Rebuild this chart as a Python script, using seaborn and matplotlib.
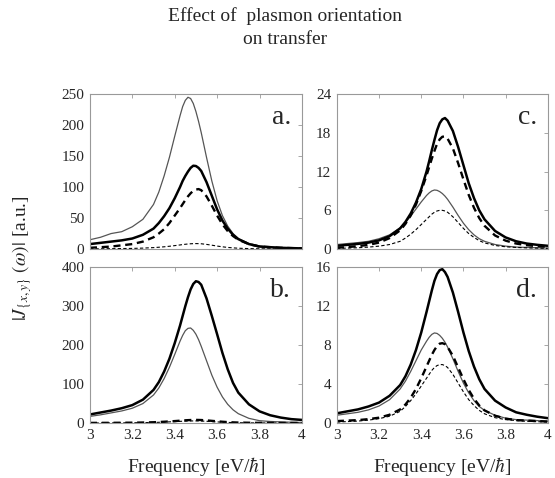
"""Effect of plasmon orientation on transfer -- four panels of |J(w)| spectra."""

import pandas as pd
import seaborn as sns
import matplotlib
matplotlib.use("Agg")
import matplotlib.pyplot as plt

# frequency grid [eV/hbar], denser around the resonance
freq = [3.0, 3.05, 3.1, 3.15, 3.2, 3.25, 3.3, 3.325, 3.35, 3.375, 3.4, 3.425, 3.4375, 3.45,
        3.4625, 3.475, 3.4875, 3.5, 3.5125, 3.525, 3.55, 3.575, 3.6, 3.625, 3.65, 3.675, 3.7,
        3.75, 3.8, 3.85, 3.9, 3.95, 4.0]

# panel a.
a_thin = [15, 19, 25, 28, 36, 48, 72, 92, 118, 148, 182, 215, 230, 240, 245, 243, 235, 222, 206,
          188, 148, 110, 78, 54, 37, 25, 17, 9, 5, 3, 2, 1.5, 1]
a_thick = [8, 10, 12, 14, 17, 23, 33, 42, 53, 66, 82, 100, 110, 118, 125, 131, 134.5, 134, 131,
           126, 108, 86, 64, 46, 33, 23, 16, 8, 4, 3, 2, 1.5, 1]
a_dash = [2, 3, 4, 6, 8, 12, 19, 25, 32, 42, 54, 66, 72.5, 79, 85, 90, 94, 96, 96.8,
          95, 85, 70, 54, 40, 29, 21, 15, 8, 4, 3, 2, 1.5, 1]
a_dot = [0.3, 0.4, 0.6, 0.8, 1.0, 1.5, 2.3, 2.9, 3.6, 4.5, 5.5, 6.6, 7.2, 7.7, 8.15, 8.5, 8.7, 8.8,
         8.7, 8.5, 7.5, 6.2, 4.8, 3.6, 2.6, 1.9, 1.3, 0.7, 0.4, 0.3, 0.2, 0.15, 0.1]

# panel b.
b_thin = [17, 21, 26, 31, 38, 50, 72, 90, 114, 143, 176, 210, 225, 237, 243, 244, 238, 228, 214,
          197, 160, 123, 92, 67, 48, 34, 24, 12, 6, 4, 3, 2, 1.5]
b_thick = [22, 27, 32, 38, 46, 60, 85, 105, 132, 165, 205, 250, 275, 300, 323, 343, 357, 364, 362,
           355, 320, 275, 228, 180, 138, 103, 78, 48, 30, 20, 14, 10, 8]
b_dash = [0.3, 0.4, 0.5, 0.7, 0.9, 1.3, 2.0, 2.6, 3.3, 4.1, 5.0, 6.0, 6.5, 7.0, 7.4, 7.7, 7.9, 8.0,
          7.9, 7.7, 6.8, 5.6, 4.4, 3.3, 2.4, 1.7, 1.2, 0.7, 0.4, 0.3, 0.2, 0.15, 0.1]
b_dot = [0.2, 0.3, 0.4, 0.5, 0.7, 1.0, 1.5, 1.9, 2.4, 3.0, 3.6, 4.3, 4.6, 4.9, 5.15, 5.3, 5.4, 5.4,
         5.3, 5.1, 4.5, 3.7, 2.9, 2.2, 1.6, 1.1, 0.8, 0.45, 0.3, 0.2, 0.15, 0.1, 0.1]

# panel c.
c_thin = [0.7, 0.85, 1.0, 1.2, 1.6, 2.2, 3.3, 4.1, 5.1, 6.2, 7.3, 8.3, 8.7, 9.0, 9.15, 9.1, 8.9, 8.6,
          8.2, 7.7, 6.5, 5.2, 4.0, 3.0, 2.2, 1.6, 1.2, 0.7, 0.45, 0.3, 0.25, 0.2, 0.15]
c_thick = [0.5, 0.65, 0.8, 1.0, 1.35, 2.0, 3.2, 4.2, 5.5, 7.2, 9.3, 12.0, 13.6, 15.3, 16.9, 18.4, 19.5,
           20.1, 20.3, 19.9, 18.3, 15.8, 13.0, 10.2, 7.9, 6.0, 4.6, 2.8, 1.8, 1.2, 0.85, 0.65, 0.5]
c_dash = [0.2, 0.3, 0.45, 0.65, 1.0, 1.7, 2.9, 3.9, 5.2, 6.9, 9.0, 11.4, 12.7, 14.0, 15.2, 16.3, 17.0,
          17.4, 17.45, 17.1, 15.6, 13.3, 10.8, 8.4, 6.4, 4.8, 3.6, 2.1, 1.3, 0.85, 0.6, 0.45, 0.35]
c_dot = [0.1, 0.15, 0.2, 0.3, 0.45, 0.7, 1.2, 1.7, 2.3, 3.0, 3.8, 4.6, 5.0, 5.4, 5.7, 5.9, 6.0, 6.0,
         5.9, 5.7, 5.0, 4.1, 3.2, 2.4, 1.8, 1.3, 0.95, 0.55, 0.35, 0.25, 0.18, 0.14, 0.1]

# panel d.
d_thin = [0.8, 0.95, 1.1, 1.35, 1.75, 2.4, 3.5, 4.3, 5.3, 6.4, 7.5, 8.4, 8.8, 9.1, 9.25, 9.2, 9.0, 8.7,
          8.3, 7.8, 6.6, 5.3, 4.1, 3.1, 2.3, 1.7, 1.3, 0.8, 0.5, 0.35, 0.3, 0.25, 0.2]
d_thick = [1.0, 1.2, 1.4, 1.7, 2.1, 2.8, 3.9, 4.8, 6.0, 7.5, 9.3, 11.4, 12.5, 13.6, 14.6, 15.3, 15.7,
           15.8, 15.5, 15.0, 13.4, 11.4, 9.3, 7.4, 5.8, 4.5, 3.5, 2.3, 1.6, 1.1, 0.85, 0.65, 0.5]
d_dash = [0.2, 0.25, 0.3, 0.4, 0.55, 0.85, 1.4, 1.9, 2.6, 3.5, 4.6, 5.8, 6.4, 7.0, 7.5, 7.9, 8.15, 8.2,
          8.1, 7.8, 6.9, 5.7, 4.5, 3.4, 2.5, 1.8, 1.3, 0.75, 0.45, 0.3, 0.25, 0.2, 0.15]
d_dot = [0.1, 0.15, 0.2, 0.3, 0.45, 0.7, 1.2, 1.7, 2.3, 3.0, 3.8, 4.6, 5.0, 5.4, 5.7, 5.9, 6.0, 6.0,
         5.9, 5.7, 5.0, 4.1, 3.2, 2.4, 1.8, 1.3, 0.95, 0.55, 0.35, 0.25, 0.18, 0.14, 0.1]

panels = {
    "a.": (a_thin, a_thick, a_dash, a_dot, [0, 50, 100, 150, 200, 250]),
    "b.": (b_thin, b_thick, b_dash, b_dot, [0, 100, 200, 300, 400]),
    "c.": (c_thin, c_thick, c_dash, c_dot, [0, 6, 12, 18, 24]),
    "d.": (d_thin, d_thick, d_dash, d_dot, [0, 4, 8, 12, 16]),
}

sns.set_style("white")
plt.rcParams["font.family"] = ["Liberation Serif", "DejaVu Serif"]
plt.rcParams["mathtext.fontset"] = "stix"

fig = plt.figure(figsize=(5.55, 4.78), dpi=100)
# axes boxes in figure fractions (left, bottom, width, height)
boxes = {
    "a.": [0.162, 0.479, 0.382, 0.324],
    "b.": [0.162, 0.115, 0.382, 0.326],
    "c.": [0.607, 0.479, 0.380, 0.324],
    "d.": [0.607, 0.115, 0.380, 0.326],
}

# line styles: thin grey solid, thick solid, thick dashed, thin dashed
styles = [
    dict(color="#555555", lw=0.9, ls="-"),
    dict(color="black", lw=1.8, ls="-"),
    dict(color="black", lw=1.7, ls=(0, (3.0, 2.0))),
    dict(color="black", lw=0.8, ls=(0, (3.0, 2.0))),
]

for label, (thin, thick, dash, dot, yticks) in panels.items():
    ax = fig.add_axes(boxes[label])
    df = pd.DataFrame({"freq": freq, "thin": thin, "thick": thick, "dash": dash, "dot": dot})
    for col, st in zip(["thin", "thick", "dash", "dot"], styles):
        sns.lineplot(data=df, x="freq", y=col, ax=ax, color=st["color"],
                     linewidth=st["lw"], linestyle=st["ls"])
    ax.set_xlim(3, 4)
    ax.set_ylim(yticks[0], yticks[-1])
    ax.set_xticks([3, 3.2, 3.4, 3.6, 3.8, 4])
    ax.set_yticks(yticks)
    ax.set_xlabel("")
    ax.set_ylabel("")
    ax.tick_params(direction="in", length=3, width=0.6, color="#999999",
                   top=True, right=True, labelsize=11, pad=4)
    if label in ("a.", "c."):
        ax.tick_params(labelbottom=False)
    else:
        ax.set_xticklabels(["3", "3.2", "3.4", "3.6", "3.8", "4"])
        ax.set_xlabel(r"Frequency [eV/$\hbar$]", fontsize=14, labelpad=10)
    for sp in ax.spines.values():
        sp.set_color("#999999")
        sp.set_linewidth(0.8)
    ax.text(0.95, 0.93, label, transform=ax.transAxes, ha="right", va="top", fontsize=20)

fig.text(0.513, 0.985, "Effect of  plasmon orientation\non transfer", ha="center", va="top",
         fontsize=14, linespacing=1.45)
fig.text(0.04, 0.46, r"$|J_{\{x,y\}}$ $(\omega)|$ [a.u.]", rotation=90, ha="center", va="center",
         fontsize=14)

fig.savefig("out.png", dpi=100)
